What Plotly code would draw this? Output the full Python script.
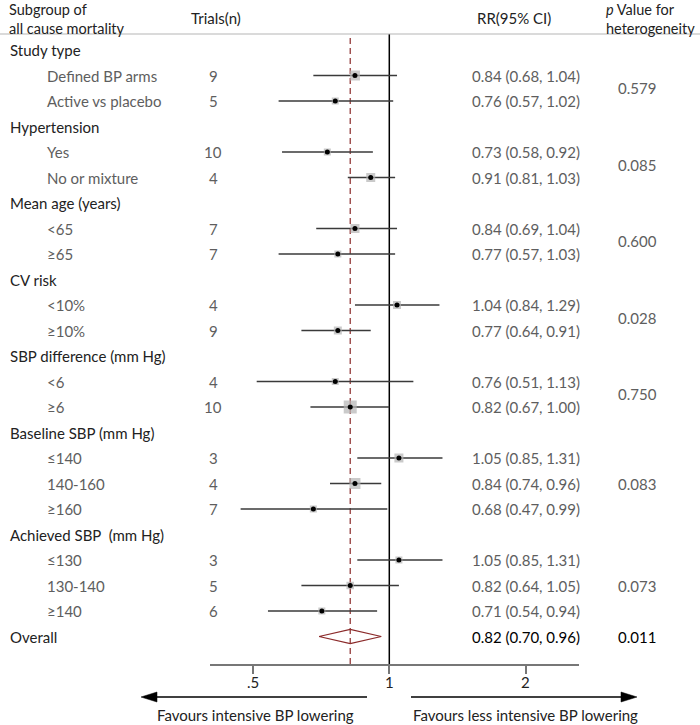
import math
import plotly.graph_objects as go

# ---------------- data ----------------
groups = ["Study type", "Hypertension", "Mean age (years)", "CV risk",
          "SBP difference (mm Hg)", "Baseline SBP (mm Hg)", "Achieved SBP  (mm Hg)"]
subgroups = [["Defined BP arms", "Active vs placebo"],
             ["Yes", "No or mixture"],
             ["<65", "≥65"],
             ["<10%", "≥10%"],
             ["<6", "≥6"],
             ["≤140", "140-160", "≥160"],
             ["≤130", "130-140", "≥140"]]
trials = [[9, 5], [10, 4], [7, 7], [4, 9], [4, 10], [3, 4, 7], [3, 5, 6]]
rr = [[0.84, 0.76], [0.73, 0.91], [0.84, 0.77], [1.04, 0.77], [0.76, 0.82],
      [1.05, 0.84, 0.68], [1.05, 0.82, 0.71]]
lo = [[0.68, 0.57], [0.58, 0.81], [0.69, 0.57], [0.84, 0.64], [0.51, 0.67],
      [0.85, 0.74, 0.47], [0.85, 0.64, 0.54]]
hi = [[1.04, 1.02], [0.92, 1.03], [1.04, 1.03], [1.29, 0.91], [1.13, 1.00],
      [1.31, 0.96, 0.99], [1.31, 1.05, 0.94]]
weight = [[10, 7], [7, 9], [9, 7], [8, 8], [7, 13], [9, 11, 7], [7, 7.5, 7]]
p_het = ["0.579", "0.085", "0.600", "0.028", "0.750", "0.083", "0.073"]

overall_label = "Overall"
overall_rr, overall_lo, overall_hi = 0.82, 0.70, 0.96
overall_p = "0.011"

tick_vals = [0.5, 1, 2]
tick_text = [".5", "1", "2"]

# ---------------- layout geometry (pixels) ----------------
W, H = 700, 725
ROW0, STEP = 50, 25.5
AX_Y, HDR_Y = 664, 34
X_L, X_R, X_ONE, PX_LOG2 = 210, 579, 389.3, 136.5
FONT = "Lato, 'Open Sans', sans-serif"
DARK = "#222222"
GRAY = "#5e5e5e"
RED = "#8b2a2a"


def px(x):
    return x / W


def py(y):
    return 1 - y / H


x_range = [math.log10(2 ** ((X_L - X_ONE) / PX_LOG2)),
           math.log10(2 ** ((X_R - X_ONE) / PX_LOG2))]
y_bot = (AX_Y - ROW0) / STEP
y_top = (HDR_Y - ROW0) / STEP

fig = go.Figure()
ann = []


def text(x, y, s, anchor="left", color=GRAY, size=15, yref="y", xref="paper", pad=1):
    ann.append(dict(x=px(x) if xref == "paper" else x, y=y, xref=xref, yref=yref,
                    text=s, showarrow=False, xanchor=anchor, yanchor="middle",
                    align="left", borderpad=pad,
                    font=dict(family=FONT, size=size, color=color)))


# reference lines
fig.add_trace(go.Scatter(x=[1, 1], y=[y_bot, y_top], mode="lines",
                         line=dict(color="black", width=1.5), hoverinfo="skip"))
fig.add_trace(go.Scatter(x=[overall_rr, overall_rr], y=[y_bot, y_top], mode="lines",
                         line=dict(color=RED, width=1.2, dash="6px,4px"), hoverinfo="skip"))

ci_x, ci_y, pt_x, pt_y, sizes = [], [], [], [], []
row = 0
for g, name in enumerate(groups):
    text(8, row, name, color=DARK)
    row += 1
    first = row
    for k, sname in enumerate(subgroups[g]):
        text(45, row, sname)
        text(213, row, str(trials[g][k]), anchor="center")
        text(470, row, f"{rr[g][k]:.2f} ({lo[g][k]:.2f}, {hi[g][k]:.2f})")
        ci_x += [lo[g][k], hi[g][k], None]
        ci_y += [row, row, None]
        pt_x.append(rr[g][k])
        pt_y.append(row)
        sizes.append(weight[g][k])
        row += 1
    text(637, (first + row - 1) / 2, p_het[g], anchor="center")

fig.add_trace(go.Scatter(x=ci_x, y=ci_y, mode="lines",
                         line=dict(color="#3a3a3a", width=1.5), hoverinfo="skip"))
fig.add_trace(go.Scatter(x=pt_x, y=pt_y, mode="markers",
                         marker=dict(symbol="square", size=sizes, color="#b4b4b4",
                                     line=dict(width=0)), hoverinfo="skip"))
fig.add_trace(go.Scatter(x=pt_x, y=pt_y, mode="markers",
                         marker=dict(symbol="circle", size=5, color="black"),
                         hoverinfo="skip"))

# overall row
text(8, row, overall_label, color=DARK)
text(470, row, f"{overall_rr:.2f} ({overall_lo:.2f}, {overall_hi:.2f})", color="black")
text(637, row, overall_p, anchor="center", color="black")
dh = 0.275
fig.add_trace(go.Scatter(x=[overall_lo, overall_rr, overall_hi, overall_rr, overall_lo],
                         y=[row, row - dh, row, row + dh, row], mode="lines",
                         line=dict(color=RED, width=1.2), hoverinfo="skip"))

# tick labels (log axis: annotation x is given as log10 of the value)
for v, t in zip(tick_vals, tick_text):
    text(math.log10(v), py(682), t, anchor="center", color=DARK, yref="paper", xref="x")

# header
text(8, py(19), "Subgroup of<br>all cause mortality", color=DARK, yref="paper", pad=0, size=14.5)
text(216, py(18), "Trials(n)", anchor="center", color=DARK, yref="paper")
text(514, py(18), "RR(95% CI)", anchor="center", color=DARK, yref="paper")
text(605, py(19), "<i>p</i> Value for<br>heterogeneity", color=DARK, yref="paper", pad=0,
     size=14.5)

# favours labels
text(156, py(715), "Favours intensive BP lowering", color=DARK, yref="paper", pad=0)
text(525, py(715), "Favours less intensive BP lowering", anchor="center", color=DARK,
     yref="paper", pad=0)

shapes = [
    dict(type="line", xref="paper", yref="paper", x0=0, x1=1, y0=py(HDR_Y), y1=py(HDR_Y),
         line=dict(color="#b5b5b5", width=1.2)),
    # left arrow
    dict(type="line", xref="paper", yref="paper", x0=px(367), x1=px(154), y0=py(697), y1=py(697),
         line=dict(color="black", width=1.5)),
    dict(type="path", xref="paper", yref="paper",
         path=f"M {px(141)},{py(697)} L {px(157)},{py(692)} L {px(157)},{py(702)} Z",
         fillcolor="black", line=dict(color="black", width=0.5)),
    # right arrow
    dict(type="line", xref="paper", yref="paper", x0=px(411), x1=px(624), y0=py(697), y1=py(697),
         line=dict(color="black", width=1.5)),
    dict(type="path", xref="paper", yref="paper",
         path=f"M {px(637)},{py(697)} L {px(621)},{py(692)} L {px(621)},{py(702)} Z",
         fillcolor="black", line=dict(color="black", width=0.5)),
]

fig.update_layout(
    width=W, height=H, margin=dict(l=0, r=0, t=0, b=0),
    paper_bgcolor="white", plot_bgcolor="white", showlegend=False,
    annotations=ann, shapes=shapes,
    xaxis=dict(type="log", range=x_range, domain=[px(X_L), px(X_R)],
               tickvals=tick_vals, showticklabels=False, ticks="outside", ticklen=8,
               tickwidth=1.5, tickcolor="#777777", showline=True, linecolor="#777777",
               linewidth=2, showgrid=False, zeroline=False),
    yaxis=dict(range=[y_bot, y_top], domain=[py(AX_Y), py(HDR_Y)], visible=False,
               showgrid=False, zeroline=False),
)

fig.write_html("out.html", config={"displayModeBar": False},
               post_script="document.body.style.margin='0';document.body.style.overflow='hidden';")
